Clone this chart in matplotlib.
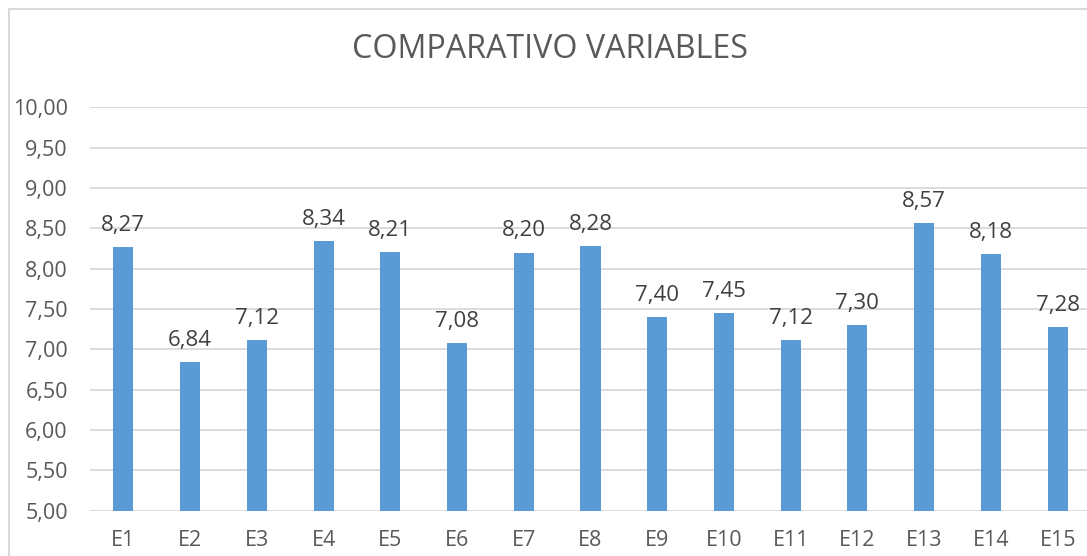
import matplotlib
matplotlib.use("Agg")
import matplotlib.pyplot as plt
from matplotlib.lines import Line2D

categories = ["E1", "E2", "E3", "E4", "E5", "E6", "E7", "E8", "E9", "E10", "E11", "E12", "E13", "E14", "E15"]
values = [8.27, 6.84, 7.12, 8.34, 8.21, 7.08, 8.20, 8.28, 7.40, 7.45, 7.12, 7.30, 8.57, 8.18, 7.28]
yticks = [5.0, 5.5, 6.0, 6.5, 7.0, 7.5, 8.0, 8.5, 9.0, 9.5, 10.0]
title = "COMPARATIVO VARIABLES"

plt.rcParams['font.family'] = ['Open Sans', 'DejaVu Sans']

W, H = 1087, 556
fig = plt.figure(figsize=(W / 100, H / 100), dpi=100)
left, right = 90 / W, 1091 / W
bottom, top = (H - 510.7) / H, (H - 107.3) / H
ax = fig.add_axes([left, bottom, right - left, top - bottom])

x = list(range(len(categories)))
ax.bar(x, values, width=0.30, color="#5B9BD5", zorder=3)
ax.set_xlim(-0.5, len(categories) - 0.5)
ax.set_ylim(5, 10)
ax.set_yticks(yticks)
ax.set_yticklabels([f"{v:.2f}".replace(".", ",") for v in yticks])
ax.set_xticks(x)
ax.set_xticklabels(categories)
ax.tick_params(axis="both", length=0, labelsize=15.5, colors="#595959")
ax.tick_params(axis="y", pad=16)
ax.tick_params(axis="x", pad=14)
ax.grid(axis="y", color="#D9D9D9", linewidth=1.3, zorder=0)
for s in ax.spines.values():
    s.set_visible(False)

for xi, v in zip(x, values):
    ax.annotate(f"{v:.2f}".replace(".", ","), (xi, v), xytext=(0, 8), textcoords="offset points",
                ha="center", va="bottom", fontsize=16, color="#404040")

fig.text(550 / W, 1 - 50 / H, title, ha="center", va="center", fontsize=23.2, color="#595959")

# chart border
fig.add_artist(Line2D([8.5 / W, 8.5 / W], [0, 1 - 8.5 / H], color="#D9D9D9", linewidth=1.5, transform=fig.transFigure))
fig.add_artist(Line2D([8.5 / W, 1], [1 - 8.5 / H, 1 - 8.5 / H], color="#D9D9D9", linewidth=1.5, transform=fig.transFigure))

fig.savefig("out.png", dpi=100)
